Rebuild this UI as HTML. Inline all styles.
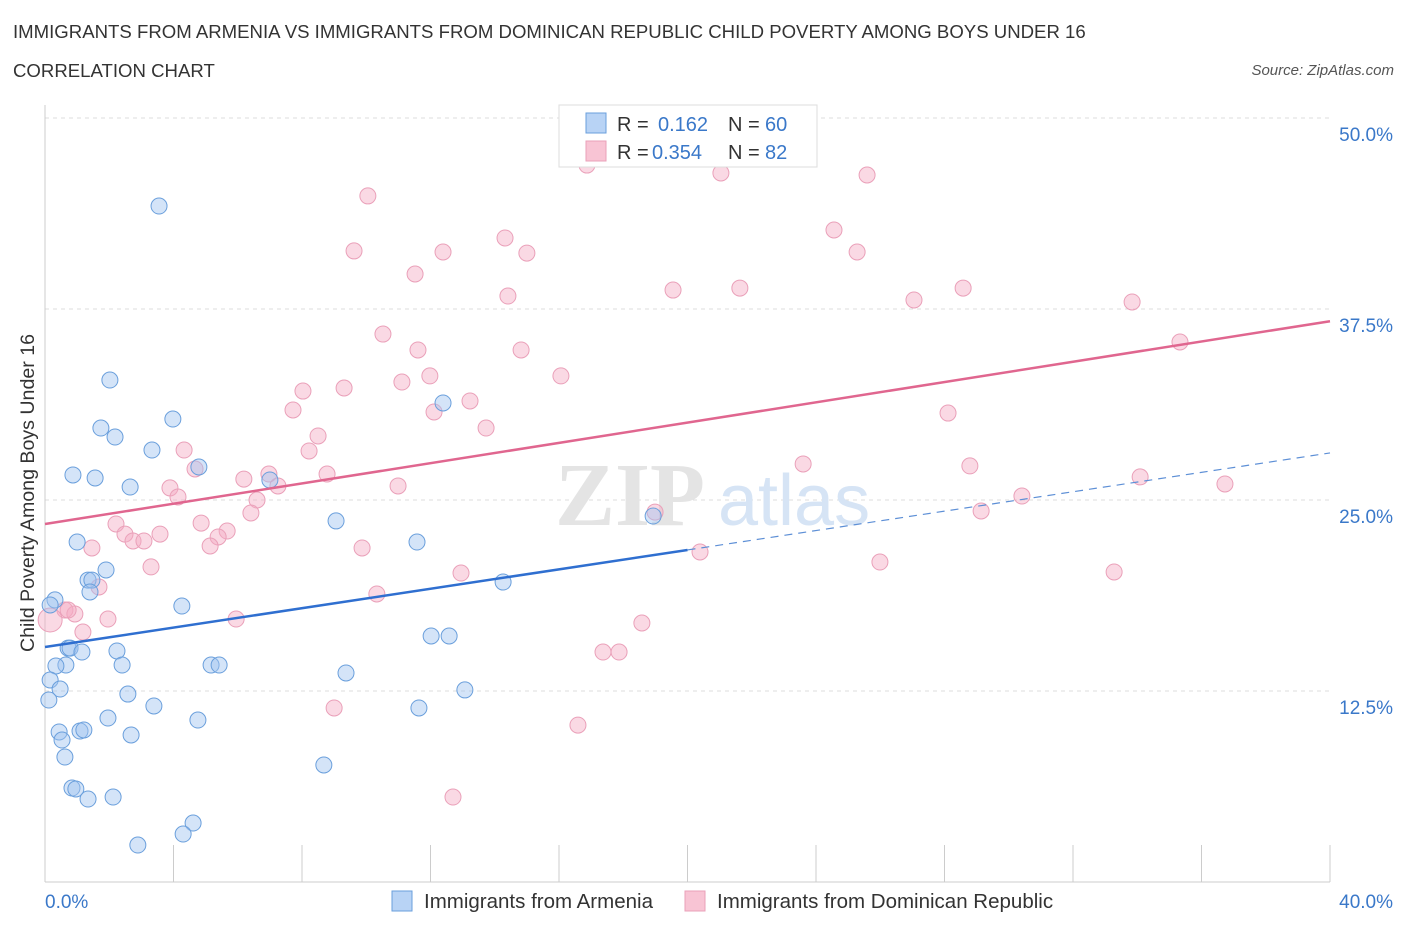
<!DOCTYPE html>
<html><head><meta charset="utf-8">
<style>
body{margin:0;background:#fff;font-family:"Liberation Sans",sans-serif;}
#wrap{position:relative;width:1406px;height:930px;overflow:hidden;}
.t{position:absolute;white-space:nowrap;}
</style></head>
<body>
<div id="wrap">
<div class="t" style="left:13px;top:21px;font-size:18.6px;color:#333;">IMMIGRANTS FROM ARMENIA VS IMMIGRANTS FROM DOMINICAN REPUBLIC CHILD POVERTY AMONG BOYS UNDER 16</div>
<div class="t" style="left:13px;top:60px;font-size:18.6px;color:#333;">CORRELATION CHART</div>
<div class="t" style="right:12px;top:62px;font-size:15px;color:#555;font-style:italic;">Source: ZipAtlas.com</div>
<svg id="svg" width="1406" height="930" style="position:absolute;left:0;top:0"></svg>
</div>
<script>
const yTicks=[12.5,25,37.5,50];
const yTickLabels=["12.5%","25.0%","37.5%","50.0%"];
const xTickLabels=["0.0%","40.0%"];
const blueX=[3.55,2.02,3.98,1.74,2.18,3.33,4.79,0.87,1.56,2.65,7.00,12.39,9.06,18.93,1.00,11.58,1.90,1.34,1.46,1.40,0.31,0.16,4.26,14.26,0.72,0.78,1.15,2.24,2.40,0.65,0.34,5.17,5.42,9.37,12.02,12.58,0.16,0.47,0.12,2.58,13.07,3.39,1.96,4.76,11.64,0.44,0.53,1.09,1.21,2.68,0.62,0.84,0.96,1.34,2.12,8.68,4.61,4.30,2.89];
const blueY=[44.24,32.85,30.30,29.71,29.12,28.27,27.16,26.64,26.44,25.85,26.31,31.35,23.63,23.95,22.25,22.25,20.42,19.76,19.76,18.98,18.46,18.13,18.06,19.63,15.31,15.31,15.05,15.12,14.20,14.20,14.14,14.20,14.20,13.68,16.10,16.10,13.22,12.63,11.91,12.30,12.57,11.52,10.73,10.60,11.39,9.82,9.29,9.88,9.95,9.62,8.18,6.15,6.09,5.43,5.56,7.66,3.86,3.14,2.42];
const pinkX=[16.87,10.05,21.04,25.59,14.32,9.62,12.39,15.00,24.56,25.28,11.52,14.41,19.55,21.63,27.05,28.58,33.84,35.33,10.52,11.61,14.82,11.98,11.11,16.06,8.03,9.31,13.23,7.72,12.11,13.73,28.11,8.50,4.33,8.22,4.67,6.97,8.78,6.19,7.25,10.99,3.89,23.60,28.79,34.09,36.73,30.41,4.14,6.60,6.41,18.99,29.14,2.21,4.86,2.49,5.67,3.58,5.39,2.74,3.08,1.46,5.14,9.87,20.39,25.99,3.30,12.95,33.28,1.68,10.33,0.62,0.93,0.72,1.96,5.95,18.58,1.18,17.37,17.87,0.16,9.00,16.59,12.70];
const pinkY=[46.92,44.90,46.40,46.27,42.15,41.30,41.23,41.16,42.67,41.23,39.79,38.35,38.74,38.87,38.09,38.87,37.96,35.34,35.86,34.82,34.82,33.12,32.72,33.12,32.13,32.33,31.48,30.89,30.76,29.71,30.69,29.19,28.27,28.21,27.03,26.70,26.70,26.37,25.92,25.92,25.79,27.36,27.23,26.51,26.05,25.26,25.20,25.00,24.15,24.21,24.28,23.43,23.49,22.77,22.97,22.77,22.58,22.32,22.32,21.86,21.99,21.86,21.60,20.94,20.62,20.22,20.29,19.31,18.85,17.80,17.54,17.80,17.21,17.21,16.95,16.36,15.05,15.05,17.15,11.39,10.27,5.56];
const blueTrend=[15.38,28.08];
const pinkTrend=[23.43,36.70];
const NS="http://www.w3.org/2000/svg";
const svg=document.getElementById('svg');
const X=v=>45+v/40*1285;
const Y=v=>882-v*15.28;
function mk(tag,attrs,parent){const e=document.createElementNS(NS,tag);for(const k in attrs)e.setAttribute(k,attrs[k]);(parent||svg).appendChild(e);return e;}
yTicks.forEach((t,i)=>{
 const g=mk('line',{x1:45,x2:1330,y1:Y(t),y2:Y(t),stroke:'#ddd','stroke-dasharray':'4,4'});
 
 
 const tx=mk('text',{x:1393,y:Y(t)+23,'text-anchor':'end','font-size':19,fill:'#3a78c9','font-family':'Liberation Sans'});
 tx.textContent=yTickLabels[i];
 
 
});
const ax=mk('line',{x1:45,x2:1330,y1:882,y2:882,stroke:'#ccc'});


const ay=mk('line',{x1:45,x2:45,y1:105,y2:882,stroke:'#ccc'});


for(let i=0;i<=10;i++){
 const tk=mk('line',{x1:X(i*4),x2:X(i*4),y1:845,y2:882,stroke:'#ccc'});
 
 
}
[[45,'start',0],[1393,'end',1]].forEach(a=>{
 const tx=mk('text',{x:a[0],y:908,'text-anchor':a[1],'font-size':19,fill:'#3a78c9','font-family':'Liberation Sans'});
 tx.textContent=xTickLabels[a[2]];
 
 
});
const wm=mk('text',{x:555,y:525,'font-size':90,fill:'#e4e4e4','font-family':'Liberation Serif','font-weight':'bold'});
wm.textContent='ZIP';


const wm2=mk('text',{x:718,y:525,'font-size':72,fill:'#d6e4f5','font-family':'Liberation Sans'});
wm2.textContent='atlas';


const yt=mk('text',{x:0,y:0,transform:'translate(34,493) rotate(-90)','text-anchor':'middle','font-size':19.6,fill:'#333','font-family':'Liberation Sans'});
yt.textContent='Child Poverty Among Boys Under 16';


pinkX.forEach((v,i)=>{
 const r=(i===78)?12:8;
 const c=mk('circle',{cx:X(v),cy:Y(pinkY[i]),r:r,fill:'rgba(244,170,196,0.45)',stroke:'#eaa0b9','stroke-width':1});
 
 
});
blueX.forEach((v,i)=>{
 const c=mk('circle',{cx:X(v),cy:Y(blueY[i]),r:8,fill:'rgba(160,196,240,0.45)',stroke:'#6a9fdc','stroke-width':1});
 
 
});
const bMid=blueTrend[0]+(blueTrend[1]-blueTrend[0])*0.5;
const l1=mk('line',{x1:X(0),y1:Y(blueTrend[0]),x2:X(20),y2:Y(bMid),stroke:'#2f6fd0','stroke-width':2.5});


const l2=mk('line',{x1:X(20),y1:Y(bMid),x2:X(40),y2:Y(blueTrend[1]),stroke:'#5d8fd6','stroke-width':1.2,'stroke-dasharray':'8,6'});


const l3=mk('line',{x1:X(0),y1:Y(pinkTrend[0]),x2:X(40),y2:Y(pinkTrend[1]),stroke:'#e0668f','stroke-width':2.5});


const lg=mk('g',{});


mk('rect',{x:559,y:105,width:258,height:62,fill:'#fff',stroke:'#ddd'},lg);
[[0,'0.162','60','#b8d3f5','#6a9fdc'],[1,'0.354','82','#f8c4d4','#eaa0b9']].forEach(r=>{
 const y=113+r[0]*28;
 mk('rect',{x:586,y:y,width:20,height:20,fill:r[3],stroke:r[4]},lg);
 const t=mk('text',{x:617,y:y+18,'font-size':20,fill:'#333','font-family':'Liberation Sans'},lg);
 t.textContent='R = ';
 const v=mk('text',{x:r[0]?652:658,y:y+18,'font-size':20,fill:'#3a78c9','font-family':'Liberation Sans'},lg);
 v.textContent=r[1];
 const n=mk('text',{x:728,y:y+18,'font-size':20,fill:'#333','font-family':'Liberation Sans'},lg);
 n.textContent='N = ';
 const nv=mk('text',{x:765,y:y+18,'font-size':20,fill:'#3a78c9','font-family':'Liberation Sans'},lg);
 nv.textContent=r[2];
});
[[392,'#b8d3f5','#6a9fdc','Immigrants from Armenia','legend-armenia'],[685,'#f8c4d4','#eaa0b9','Immigrants from Dominican Republic','legend-dominican']].forEach(r=>{
 const g=mk('g',{});
 
 
 mk('rect',{x:r[0],y:891,width:20,height:20,fill:r[1],stroke:r[2]},g);
 const t=mk('text',{x:r[0]+32,y:908,'font-size':20.5,fill:'#333','font-family':'Liberation Sans'},g);
 t.textContent=r[3];
});
</script>
</body></html>
